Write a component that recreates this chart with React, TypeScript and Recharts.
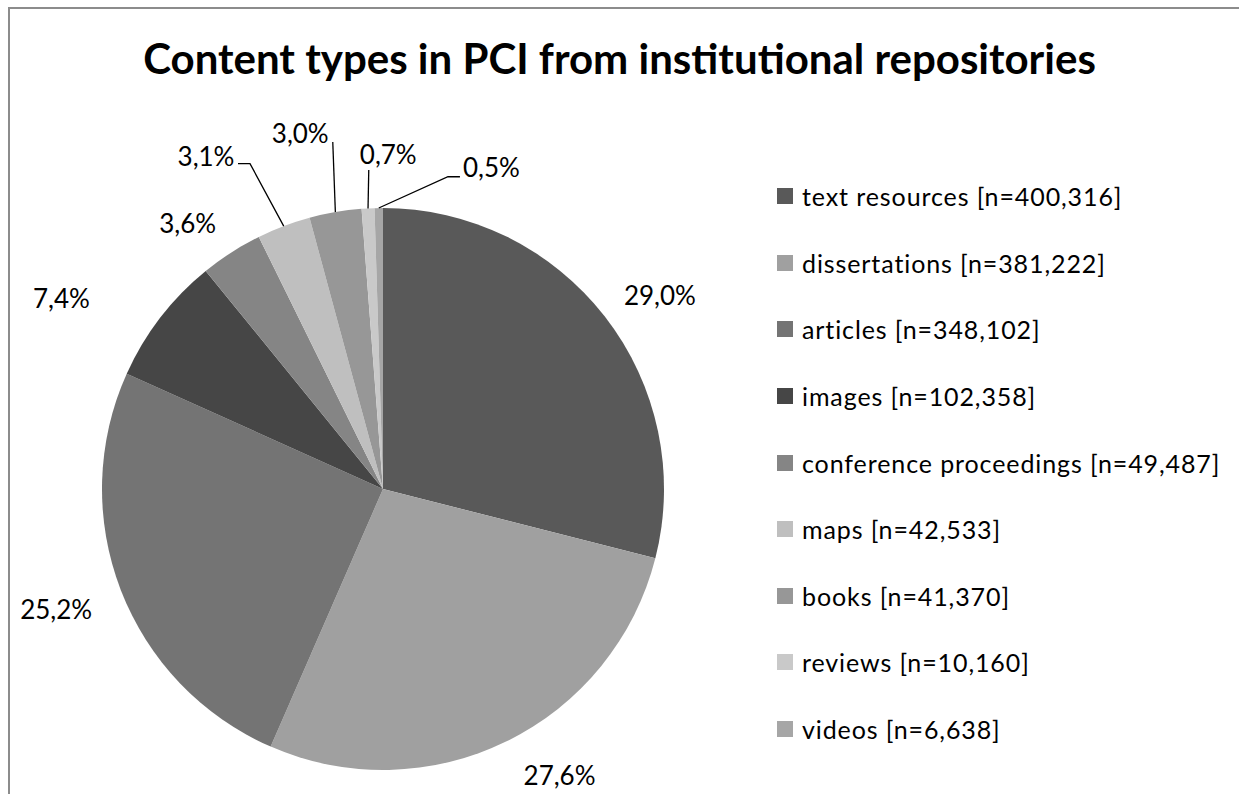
import { PieChart, Pie, Cell, Legend } from 'recharts';

// content types and their record counts
const categories = [
  'text resources',
  'dissertations',
  'articles',
  'images',
  'conference proceedings',
  'maps',
  'books',
  'reviews',
  'videos',
];
const counts = [400316, 381222, 348102, 102358, 49487, 42533, 41370, 10160, 6638];
const sliceColors = ['#595959', '#a0a0a0', '#747474', '#464646', '#858585', '#bfbfbf', '#979797', '#c9c9c9', '#a6a6a6'];

// where Excel put each percentage label: [clockwise degrees from 12 o'clock, distance from centre]
const labelSpots = [
  [55.0, 338], [148.3, 336], [249.9, 348], [300.7, 374], [323.7, 330],
  [332.0, 377], [346.9, 365], [0.9, 335], [18.6, 340],
];
// leader lines for the crowded labels: end (and optional elbow) relative to the label centre
const leaders: Record<number, number[][]> = {
  5: [[32, 7.5], [44, 7.5]],
  6: [[32.5, 8.5]],
  7: [[-19.5, 16]],
  8: [[-31.5, 10], [-43.5, 10]],
};

const W = 1239;
const H = 794;
const CX = 383;
const CY = 489;
const R = 281;
const FONT = 'Lato, "Open Sans", sans-serif';

const total = counts.reduce((s, v) => s + v, 0);
const data = categories.map((c, i) => ({
  name: c,
  legend: `${c} [n=${counts[i].toLocaleString('en-US')}]`,
  value: counts[i],
}));

const pct = (v: number) => ((v / total) * 100).toFixed(1).replace('.', ',') + '%';

const polar = (deg: number, dist: number) => {
  const a = (deg * Math.PI) / 180;
  return [CX + dist * Math.sin(a), CY - dist * Math.cos(a)];
};

const renderLabel = (props: any) => {
  const { index, midAngle, value } = props;
  const [deg, dist] = labelSpots[index];
  const [lx, ly] = polar(deg, dist);
  const lead = leaders[index];
  let line = null;
  if (lead) {
    // recharts midAngle is counter-clockwise from 3 o'clock
    const cw = 90 - midAngle;
    const [ex, ey] = polar(cw, R);
    const pts = [[ex, ey], ...lead.slice().reverse().map(([dx, dy]) => [lx + dx, ly + dy])];
    line = (
      <polyline
        points={pts.map((p) => p.join(',')).join(' ')}
        fill="none"
        stroke="#000"
        strokeWidth={1.3}
      />
    );
  }
  return (
    <g key={`lbl-${index}`}>
      {line}
      <text
        x={lx}
        y={ly}
        textAnchor="middle"
        dominantBaseline="central"
        fontFamily={FONT}
        fontSize={26}
        fill="#000"
      >
        {pct(value)}
      </text>
    </g>
  );
};

const renderLegend = () => (
  <div style={{ fontFamily: FONT, fontSize: 25, letterSpacing: 0.9, color: '#000' }}>
    {data.map((d, i) => (
      <div key={d.name} style={{ display: 'flex', alignItems: 'center', height: 66.6 }}>
        <span style={{ width: 16, height: 16, background: sliceColors[i], marginRight: 9, flex: 'none' }} />
        <span style={{ whiteSpace: 'nowrap' }}>{d.legend}</span>
      </div>
    ))}
  </div>
);

export default function App() {
  return (
    <div style={{ position: 'fixed', left: 0, top: 0, width: W, height: H, overflow: 'hidden', background: '#fff' }}>
      <style>{'html, body { margin: 0; overflow: hidden; }'}</style>
      <div
        style={{
          position: 'absolute',
          left: 0,
          top: 34,
          width: W,
          textAlign: 'center',
          fontFamily: FONT,
          fontWeight: 'bold',
          fontSize: 42,
          lineHeight: '48px',
          color: '#000',
        }}
      >
        Content types in PCI from institutional repositories
      </div>
      <div style={{ position: 'absolute', left: 0, top: 0 }}>
        <PieChart width={W - 20} height={H} margin={{ top: 0, right: 0, bottom: 0, left: 0 }}>
          <Pie
            data={data}
            dataKey="value"
            nameKey="name"
            cx={CX}
            cy={CY}
            outerRadius={R}
            startAngle={90}
            endAngle={-270}
            stroke="none"
            label={renderLabel}
            labelLine={false}
            isAnimationActive={false}
          >
            {data.map((d, i) => (
              <Cell key={d.name} fill={sliceColors[i]} />
            ))}
          </Pie>
          <Legend
            layout="vertical"
            content={renderLegend}
            wrapperStyle={{ position: 'absolute', left: 777, top: 163, width: 440 }}
          />
        </PieChart>
      </div>
      {/* chart-area frame: only its top and left edges fall inside the picture */}
      <div
        style={{
          position: 'absolute',
          left: 8,
          top: 7,
          width: W + 20,
          height: H + 20,
          borderTop: '2px solid #8c8c8c',
          borderLeft: '2px solid #8c8c8c',
          boxSizing: 'border-box',
          pointerEvents: 'none',
        }}
      />
    </div>
  );
}
